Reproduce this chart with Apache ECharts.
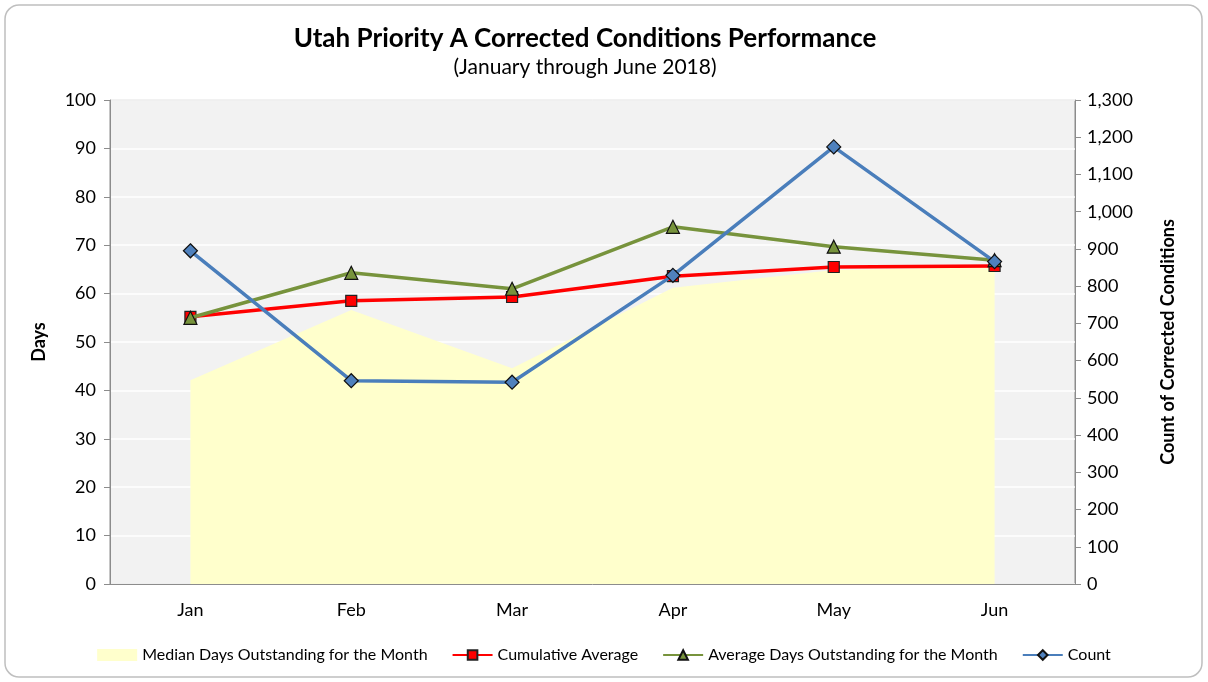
<!DOCTYPE html>
<html>
<head>
<meta charset="utf-8">
<script src="https://cdn.jsdelivr.net/npm/echarts@6/dist/echarts.min.js"></script>
<style>
  html, body { margin: 0; padding: 0; background: #fff; }
  #chart { width: 1208px; height: 682px; }
</style>
</head>
<body>
<div id="chart"></div>
<script>
// data
const months = ['Jan', 'Feb', 'Mar', 'Apr', 'May', 'Jun']
const medianDays = [42.1, 56.6, 44.6, 61.2, 64.9, 65.5]
const cumulativeAvg = [55.2, 58.5, 59.3, 63.6, 65.5, 65.7]
const avgDays = [55.0, 64.3, 61.0, 73.8, 69.7, 66.9]
const countCorrected = [895, 546, 542, 829, 1174, 866]

const font = 'Lato, "Open Sans", sans-serif'

const myChart = echarts.init(document.getElementById('chart'))
myChart.setOption({
  backgroundColor: '#fff',
  textStyle: { fontFamily: font },
  graphic: [{
    type: 'rect',
    shape: { x: 5, y: 5, width: 1197, height: 672, r: 14 },
    style: { fill: 'none', stroke: '#bfbfbf', lineWidth: 1.5 },
    z: 100
  }],
  title: {
    text: 'Utah Priority A Corrected Conditions Performance',
    subtext: '(January through June 2018)',
    left: 580,
    textAlign: 'center',
    top: 21,
    itemGap: 5,
    textStyle: { fontFamily: font, fontSize: 26, fontWeight: 'bold', color: '#000' },
    subtextStyle: { fontFamily: font, fontSize: 21, color: '#000' }
  },
  legend: {
    bottom: 14,
    left: 'center',
    itemWidth: 40,
    itemHeight: 12,
    itemGap: 24,
    textStyle: { fontFamily: font, fontSize: 16, color: '#000' },
    data: [
      { name: 'Median Days Outstanding for the Month', icon: 'rect' },
      'Cumulative Average',
      'Average Days Outstanding for the Month',
      'Count'
    ]
  },
  grid: {
    left: 110,
    right: 133,
    top: 100,
    bottom: 98,
    show: true,
    backgroundColor: '#f2f2f2',
    borderColor: '#8c8c8c',
    borderWidth: 1
  },
  xAxis: {
    type: 'category',
    data: months,
    boundaryGap: true,
    axisLine: { lineStyle: { color: '#8c8c8c' } },
    axisTick: { show: false },
    axisLabel: { color: '#000', fontSize: 18, margin: 17, fontFamily: font }
  },
  yAxis: [{
    type: 'value',
    min: 0,
    max: 100,
    interval: 10,
    name: 'Days',
    nameLocation: 'middle',
    nameGap: 62,
    nameTextStyle: { fontFamily: font, fontSize: 18, fontWeight: 'bold', color: '#000' },
    axisLine: { show: true, lineStyle: { color: '#8c8c8c' } },
    axisTick: { show: true, length: 6, lineStyle: { color: '#8c8c8c' } },
    axisLabel: { color: '#000', fontSize: 18, margin: 14, fontFamily: font },
    splitLine: { show: true, lineStyle: { color: '#ffffff', width: 1.5 } }
  }, {
    type: 'value',
    min: 0,
    max: 1300,
    interval: 100,
    name: 'Count of Corrected Conditions',
    nameLocation: 'middle',
    nameGap: 84,
    nameRotate: 90,
    nameTextStyle: { fontFamily: font, fontSize: 18, fontWeight: 'bold', color: '#000' },
    axisLine: { show: true, lineStyle: { color: '#8c8c8c' } },
    axisTick: { show: true, length: 6, lineStyle: { color: '#8c8c8c' } },
    axisLabel: {
      color: '#000', fontSize: 18, margin: 12, fontFamily: font,
      formatter: v => v.toLocaleString('en-US')
    },
    splitLine: { show: false }
  }],
  series: [{
    name: 'Median Days Outstanding for the Month',
    type: 'line',
    data: medianDays,
    yAxisIndex: 0,
    symbol: 'none',
    lineStyle: { width: 0 },
    itemStyle: { color: '#ffffcc' },
    areaStyle: { color: '#ffffcc', opacity: 1 },
    z: 1
  }, {
    name: 'Cumulative Average',
    type: 'line',
    data: cumulativeAvg,
    yAxisIndex: 0,
    symbol: 'rect',
    symbolSize: 11,
    lineStyle: { color: '#ff0000', width: 3.5 },
    itemStyle: { color: '#ff0000', borderColor: '#222', borderWidth: 1.2 },
    z: 3
  }, {
    name: 'Average Days Outstanding for the Month',
    type: 'line',
    data: avgDays,
    yAxisIndex: 0,
    symbol: 'triangle',
    symbolSize: 13,
    lineStyle: { color: '#77933c', width: 3.5 },
    itemStyle: { color: '#77933c', borderColor: '#111', borderWidth: 1.2 },
    z: 4
  }, {
    name: 'Count',
    type: 'line',
    data: countCorrected,
    yAxisIndex: 1,
    symbol: 'diamond',
    symbolSize: 14,
    lineStyle: { color: '#4a7ebb', width: 3.5 },
    itemStyle: { color: '#4f81bd', borderColor: '#111', borderWidth: 1.2 },
    z: 5
  }]
})
</script>
</body>
</html>
